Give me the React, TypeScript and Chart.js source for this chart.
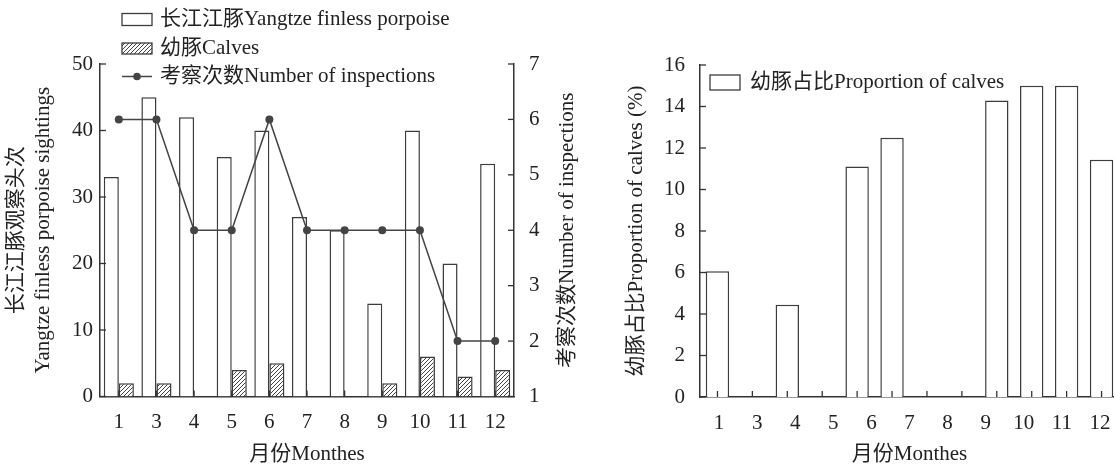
import React, { useEffect, useRef } from 'react';
import { Chart, registerables } from 'chart.js';

Chart.register(...registerables);

// ---------- data ----------
const months = ['1', '3', '4', '5', '6', '7', '8', '9', '10', '11', '12'];
const porpoiseSightings = [33, 45, 42, 36, 40, 27, 25, 14, 40, 20, 35];
const calfSightings = [2, 2, 0, 4, 5, 0, 0, 2, 6, 3, 4];
const inspections = [6, 6, 4, 4, 6, 4, 4, 4, 4, 2, 2];

const proportionSlots = ['1', '2', '3', '4', '5', '6', '7', '8', '9', '10', '11', '12'];
const calfProportion = [6.06, null, 4.44, 0, 11.11, 12.5, 0, 0, 14.29, 15, 15, 11.43];
const proportionAxisLabels = ['1', '3', '4', '5', '6', '7', '8', '9', '10', '11', '12'];

// ---------- styles ----------
const FONT = '"Liberation Serif", "Noto Sans CJK SC", serif';
const FS = 21;
const TEXT = '#222';
const AXIS = '#333';
const EDGE = '#3c3c3c';
const LINE = '#444';

function makeHatch(): CanvasPattern | string {
  const c = document.createElement('canvas');
  c.width = 4;
  c.height = 4;
  const g = c.getContext('2d');
  if (!g) return '#999';
  g.fillStyle = '#fff';
  g.fillRect(0, 0, 4, 4);
  g.strokeStyle = '#444';
  g.lineWidth = 1;
  g.beginPath();
  g.moveTo(0, 4); g.lineTo(4, 0);
  g.moveTo(-1, 1); g.lineTo(1, -1);
  g.moveTo(3, 5); g.lineTo(5, 3);
  g.stroke();
  return g.createPattern(c, 'repeat') || '#999';
}

// bars with a value of 0 draw no outline
const edgeWidth = (ctx: any) => {
  const v = ctx.raw;
  return v === 0 || v === null || v === undefined ? 0 : 1.5;
};

const inwardTicks = {
  id: 'inwardTicks',
  afterDraw(chart: any, _args: any, opts: any) {
    const ctx = chart.ctx;
    const area = chart.chartArea;
    ctx.save();
    ctx.strokeStyle = AXIS;
    ctx.lineWidth = 1.3;
    const axes = (opts && opts.axes) || {};
    Object.keys(axes).forEach((id) => {
      const s = chart.scales[id];
      if (!s) return;
      const spec = axes[id];
      s.ticks.forEach((_t: any, i: number) => {
        const p = s.getPixelForTick(i);
        ctx.beginPath();
        if (spec.side === 'left') {
          ctx.moveTo(area.left, p); ctx.lineTo(area.left + spec.length, p);
        } else if (spec.side === 'right') {
          ctx.moveTo(area.right, p); ctx.lineTo(area.right - spec.length, p);
        } else {
          ctx.moveTo(p, area.bottom); ctx.lineTo(p, area.bottom - spec.length);
        }
        ctx.stroke();
      });
    });
    ctx.restore();
  },
};

const customLegend = {
  id: 'customLegend',
  afterDraw(chart: any, _args: any, opts: any) {
    const items = (opts && opts.items) || [];
    const titles = (opts && opts.titles) || [];
    const ctx = chart.ctx;
    const area = chart.chartArea;
    ctx.save();
    ctx.font = `${FS}px ${FONT}`;
    ctx.textBaseline = 'middle';
    items.forEach((it: any) => {
      const ds = chart.data.datasets[it.dataset];
      if (!ds) return;
      if (it.kind === 'box') {
        ctx.fillStyle = ds.backgroundColor;
        ctx.fillRect(it.x, it.y - it.h / 2, it.w, it.h);
        ctx.strokeStyle = ds.borderColor;
        ctx.lineWidth = 1.3;
        ctx.strokeRect(it.x, it.y - it.h / 2, it.w, it.h);
      } else {
        ctx.strokeStyle = ds.borderColor;
        ctx.lineWidth = 1.5;
        ctx.beginPath();
        ctx.moveTo(it.x, it.y);
        ctx.lineTo(it.x + it.w, it.y);
        ctx.stroke();
        ctx.fillStyle = ds.pointBackgroundColor;
        ctx.beginPath();
        ctx.arc(it.x + it.w / 2, it.y, 3.8, 0, Math.PI * 2);
        ctx.fill();
      }
      ctx.fillStyle = TEXT;
      ctx.textAlign = 'left';
      ctx.fillText(ds.label, it.tx, it.y);
    });
    // axis titles that read bottom-to-top on the right side
    titles.forEach((t: any) => {
      ctx.save();
      ctx.translate(t.x, (area.top + area.bottom) / 2);
      ctx.rotate(-Math.PI / 2);
      ctx.fillStyle = TEXT;
      ctx.textAlign = 'center';
      ctx.fillText(t.text, 0, 0);
      ctx.restore();
    });
    ctx.restore();
  },
};

const font = (size = FS, lineHeight = 1.2) => ({ family: FONT, size, lineHeight });

function makeLeftConfig(hatch: any): any {
  return {
    type: 'bar',
    data: {
      labels: months,
      datasets: [
        {
          type: 'bar',
          label: '长江江豚Yangtze finless porpoise',
          data: porpoiseSightings,
          backgroundColor: '#fff',
          borderColor: EDGE,
          borderWidth: edgeWidth,
          yAxisID: 'y',
          order: 2,
          categoryPercentage: 0.8,
          barPercentage: 1,
        },
        {
          type: 'bar',
          label: '幼豚Calves',
          data: calfSightings,
          backgroundColor: hatch,
          borderColor: EDGE,
          borderWidth: edgeWidth,
          yAxisID: 'y',
          order: 2,
          categoryPercentage: 0.8,
          barPercentage: 1,
        },
        {
          type: 'line',
          label: '考察次数Number of inspections',
          data: inspections,
          borderColor: LINE,
          borderWidth: 1.5,
          pointRadius: 4,
          pointBackgroundColor: LINE,
          pointBorderColor: LINE,
          pointBorderWidth: 0,
          tension: 0,
          yAxisID: 'y1',
          order: 1,
        },
      ],
    },
    options: {
      responsive: false,
      animation: false,
      layout: { padding: { top: 64, left: 0, right: 0, bottom: 0 } },
      plugins: {
        legend: { display: false },
        tooltip: { enabled: false },
        customLegend: {
          items: [
            { dataset: 0, kind: 'box', x: 122, y: 19.5, w: 30, h: 12, tx: 160 },
            { dataset: 1, kind: 'box', x: 122, y: 48.5, w: 30, h: 11, tx: 160 },
            { dataset: 2, kind: 'line', x: 122, y: 76.5, w: 30, tx: 160 },
          ],
          titles: [{ text: '考察次数Number of inspections', x: 567 }],
        },
        inwardTicks: {
          axes: {
            x: { side: 'bottom', length: 6 },
            y: { side: 'left', length: 6 },
            y1: { side: 'right', length: 6 },
          },
        },
      },
      scales: {
        x: {
          type: 'category',
          offset: true,
          grid: { display: false, drawTicks: false },
          border: { display: true, color: AXIS, width: 1.5 },
          ticks: { color: TEXT, font: font(), padding: 13.5, maxRotation: 0, autoSkip: false },
          title: { display: true, text: '月份Monthes', color: TEXT, font: font(), padding: { top: 0, bottom: 0 } },
          afterFit: (s: any) => { s.height = 70.5; },
        },
        y: {
          position: 'left',
          min: 0,
          max: 50,
          grid: { display: false, drawTicks: false },
          border: { display: true, color: AXIS, width: 1.5 },
          ticks: { stepSize: 10, color: TEXT, font: font(), padding: 7 },
          title: {
            display: true,
            text: ['长江江豚观察头次', 'Yangtze finless porpoise sightings'],
            color: TEXT,
            font: font(FS, 1.27),
            padding: { top: 3.4, bottom: 0 },
          },
          afterFit: (s: any) => { s.width = 100; },
        },
        y1: {
          position: 'right',
          min: 1,
          max: 7,
          grid: { display: false, drawTicks: false },
          border: { display: true, color: AXIS, width: 1.5 },
          ticks: { stepSize: 1, color: TEXT, font: font(), padding: 15 },
          title: { display: false },
          afterFit: (s: any) => { s.width = 86; },
        },
      },
    },
    plugins: [inwardTicks, customLegend],
  };
}

function makeRightConfig(): any {
  return {
    type: 'bar',
    data: {
      labels: proportionSlots,
      datasets: [
        {
          label: '幼豚占比Proportion of calves',
          data: calfProportion,
          backgroundColor: '#fff',
          borderColor: EDGE,
          borderWidth: edgeWidth,
          xAxisID: 'x',
          yAxisID: 'y',
          categoryPercentage: 0.67,
          barPercentage: 1,
        },
      ],
    },
    options: {
      responsive: false,
      animation: false,
      layout: { padding: { top: 65, left: 0, right: 11, bottom: 0 } },
      plugins: {
        legend: { display: false },
        tooltip: { enabled: false },
        customLegend: {
          items: [{ dataset: 0, kind: 'box', x: 110, y: 82.5, w: 30, h: 15, tx: 150 }],
        },
        inwardTicks: {
          axes: {
            x: { side: 'bottom', length: 6 },
            y: { side: 'left', length: 6 },
          },
        },
      },
      scales: {
        x: {
          type: 'category',
          offset: true,
          weight: 0,
          grid: { display: false, drawTicks: false },
          border: { display: false },
          ticks: { display: false },
          afterFit: (s: any) => { s.height = 0; },
        },
        x2: {
          type: 'category',
          position: 'bottom',
          labels: proportionAxisLabels,
          offset: true,
          weight: 1,
          grid: { display: false, drawTicks: false },
          border: { display: true, color: AXIS, width: 1.5 },
          ticks: { color: TEXT, font: font(), padding: 13.5, maxRotation: 0, autoSkip: false },
          title: { display: true, text: '月份Monthes', color: TEXT, font: font(), padding: { top: 0, bottom: 0 } },
          afterFit: (s: any) => { s.height = 70; },
        },
        y: {
          position: 'left',
          min: 0,
          max: 16,
          grid: { display: false, drawTicks: false },
          border: { display: true, color: AXIS, width: 1.5 },
          ticks: { stepSize: 2, color: TEXT, font: font(), padding: 15 },
          title: {
            display: true,
            text: '幼豚占比Proportion of calves (%)',
            color: TEXT,
            font: font(),
            padding: { top: 24, bottom: 0 },
          },
          afterFit: (s: any) => { s.width = 100; },
        },
      },
    },
    plugins: [inwardTicks, customLegend],
  };
}

export default function App() {
  const leftRef = useRef<HTMLCanvasElement | null>(null);
  const rightRef = useRef<HTMLCanvasElement | null>(null);

  useEffect(() => {
    if (!leftRef.current || !rightRef.current) return;
    const hatch = makeHatch();
    const left = new Chart(leftRef.current, makeLeftConfig(hatch));
    const right = new Chart(rightRef.current, makeRightConfig());
    return () => {
      left.destroy();
      right.destroy();
    };
  }, []);

  return (
    <div
      style={{
        position: 'fixed',
        left: 0,
        top: 0,
        width: 1114,
        height: 467,
        overflow: 'hidden',
        background: '#fff',
      }}
    >
      <canvas
        ref={leftRef}
        width={600}
        height={467}
        style={{ position: 'absolute', left: 0, top: 0, width: 600, height: 467 }}
      />
      <canvas
        ref={rightRef}
        width={530}
        height={467}
        style={{ position: 'absolute', left: 600, top: 0, width: 530, height: 467 }}
      />
    </div>
  );
}
